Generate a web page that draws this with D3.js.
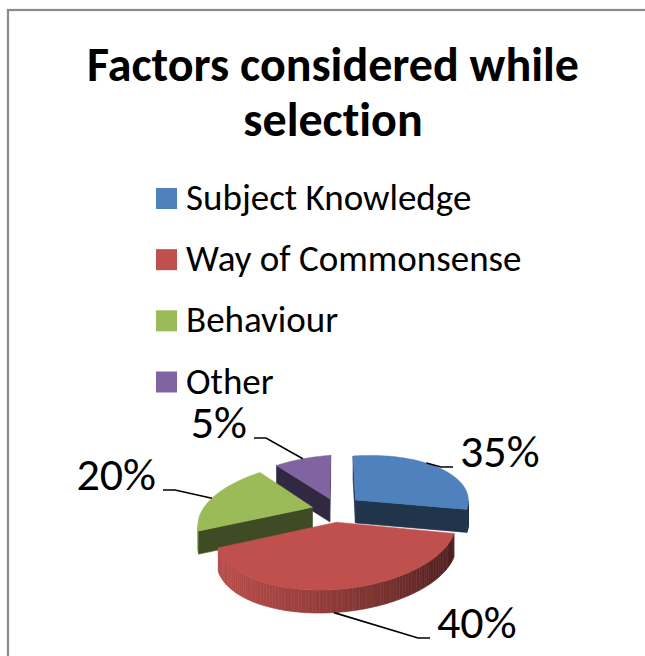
<!DOCTYPE html>
<html><head><meta charset="utf-8">
<script src="https://cdn.jsdelivr.net/npm/d3@7"></script>
<style>
html,body{margin:0;padding:0;background:#fff;}
svg{display:block;}
text{font-family:Carlito, Calibri, Lato, sans-serif;font-variant-ligatures:none;font-feature-settings:"liga" 0;}
</style></head><body>
<svg id="chart" width="645" height="656"></svg>
<script>
// ---- data ----
const categories = ["Subject Knowledge","Way of Commonsense","Behaviour","Other"];
const values = [35,40,20,5];
const percentLabels = ["35%","40%","20%","5%"];
const colors = ["#4F81BD","#C0504D","#9BBB59","#8064A2"];
const titleLines = ["Factors considered while","selection"];

// ---- layout / projection ----
const P = {cx:337, cy:509.5, ax:114, ay:-8, by:53, k:0.15, depth:23, explode:0.23,
           rot:-17*Math.PI/180, rotEase:20*Math.PI/180};
const labelLayout = [
  {dx:123, dy:-42.5, anchor:"start"},
  {dx:100, dy:128.5, anchor:"start"},
  {dx:-181, dy:-19.5, anchor:"end"},
  {dx:-90, dy:-71.5, anchor:"end"}
];

const svg = d3.select("#chart");
svg.append("rect").attr("x",8).attr("y",10).attr("width",700).attr("height",700)
  .attr("fill","#fff").attr("stroke","#8a8a8a").attr("stroke-width",2.2);

// title
const title = svg.append("text").attr("text-anchor","middle").attr("font-weight","bold")
  .attr("font-size",48).attr("fill","#000");
titleLines.forEach((t,i)=> title.append("tspan").attr("x",333).attr("y",81+i*55).text(t));

// legend
const ly = d3.scalePoint().domain(categories).range([198.5, 382]);
const lg = svg.append("g");
categories.forEach((c,i)=>{
  lg.append("rect").attr("x",156).attr("y",ly(c)-10.5).attr("width",21).attr("height",21).attr("fill",colors[i]);
  lg.append("text").attr("x",186).attr("y",ly(c)+11.5).attr("font-size",37).attr("fill","#000").text(c);
});

// ---- 3D pie ----
const pie = d3.pie().sort(null).value(d=>d).startAngle(0).endAngle(2*Math.PI);
const arcs = pie(values);
// view rotation of the pie (eased to zero at the 12 o'clock seam, as rendered in the source)
function warp(t){
  const d = Math.min(t, 2*Math.PI - t);
  const s = Math.min(1, d / P.rotEase);
  return t + P.rot * s;
}
function proj(X,Z,down){
  const den = 1 - P.k*Z;
  return [P.cx + (P.ax*X)/den, P.cy + (P.ay*X + P.by*Z)/den + (down||0)];
}
function area(pts){let s=0;for(let i=0;i<pts.length;i++){const a=pts[i],b=pts[(i+1)%pts.length];s+=a[0]*b[1]-b[0]*a[1];}return s/2;}
const line = d3.line();
const L = [-0.95,0.3]; const Ln=Math.hypot(L[0],L[1]);
function shade(base,f){const c=d3.rgb(base);return d3.rgb(c.r*f,c.g*f,c.b*f).formatHex();}

const slices = arcs.map((a,i)=>{
  const m=(a.startAngle+a.endAngle)/2;
  const gm=warp(m);
  const ox=P.explode*Math.sin(gm), oz=-P.explode*Math.cos(gm);
  return {a,i,m,gm,ox,oz};
});
const order = slices.slice().sort((p,q)=>p.oz-q.oz);
const gPie = svg.append("g");
order.forEach(s=>{
  const {a,i,ox,oz}=s;
  const g0=warp(a.startAngle), g1=warp(a.endAngle);
  const n=Math.max(2,Math.ceil((g1-g0)/(Math.PI/120)));
  const gs=d3.range(n+1).map(j=>g0+(g1-g0)*j/n);
  const rimT=gs.map(g=>proj(ox+Math.sin(g), oz-Math.cos(g),0));
  const rimB=gs.map(g=>proj(ox+Math.sin(g), oz-Math.cos(g),P.depth));
  const apT=proj(ox,oz,0), apB=proj(ox,oz,P.depth);
  const grp=gPie.append("g");
  for(let j=0;j<n;j++){
    const q=[rimT[j],rimT[j+1],rimB[j+1],rimB[j]];
    if(area(q)<0){
      const gmid=(gs[j]+gs[j+1])/2;
      const d=(Math.sin(gmid)*L[0]+(-Math.cos(gmid))*L[1])/Ln;
      let f=0.45+(d+0.59)/1.54*0.49; f=Math.max(0.4,Math.min(0.95,f));
      const col=shade(colors[i],f);
      grp.append("path").attr("d",line(q)+"Z").attr("fill",col).attr("stroke",col).attr("stroke-width",0.6);
    }
  }
  const endF=[apT,rimT[n],rimB[n],apB];
  const startF=[apT,apB,rimB[0],rimT[0]];
  [startF,endF].forEach(q=>{
    if(area(q)>0){
      const col=shade(colors[i],0.4);
      grp.append("path").attr("d",line(q)+"Z").attr("fill",col).attr("stroke",col).attr("stroke-width",0.6);
    }
  });
  grp.append("path").attr("d",line([apT,...rimT])+"Z").attr("fill",colors[i]).attr("stroke",colors[i]).attr("stroke-width",0.5);
  s.rimPoint=(g,down)=>proj(ox+Math.sin(g),oz-Math.cos(g),down);
});

// data labels with leader lines
const gLab = svg.append("g");
slices.forEach((s,i)=>{
  const front=-Math.cos(s.gm)>0.5;
  const S=s.rimPoint(s.gm, front?P.depth:0);
  const lay=labelLayout[i];
  const tx=P.cx+lay.dx, ty=P.cy+lay.dy;
  const dir = lay.anchor==="start"?1:-1;
  const E=[tx-dir*7, ty];
  const Mid=[E[0]-dir*12, ty];
  gLab.append("path").attr("d",line([S,Mid,E])).attr("fill","none").attr("stroke","#000").attr("stroke-width",1.6);
  gLab.append("text").attr("x",tx).attr("y",ty).attr("text-anchor",lay.anchor)
    .attr("font-size",46).attr("fill","#000").text(percentLabels[i]);
});
</script></body></html>
